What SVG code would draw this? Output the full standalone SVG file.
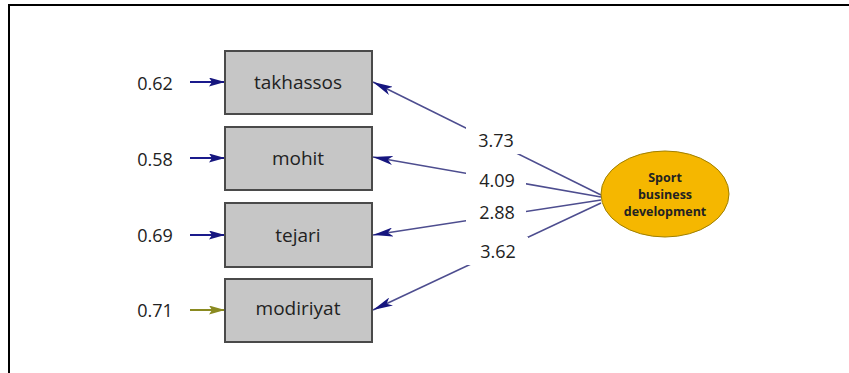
<svg xmlns="http://www.w3.org/2000/svg" width="849" height="373" viewBox="0 0 849 373">
  <style>
    .box { fill: #c6c6c6; stroke: #4a4a4a; stroke-width: 2; }
    .lbl { font-family: "Open Sans", "Noto Sans", sans-serif; font-size: 19px; fill: #222; text-anchor: middle; dominant-baseline: central; }
    .num { font-family: "Open Sans", "Noto Sans", sans-serif; font-size: 18px; fill: #222; text-anchor: middle; dominant-baseline: central; }
    .err { stroke: #1a1a8c; stroke-width: 2; fill: none; }
    .path { stroke: #4d4d8f; stroke-width: 1.6; fill: none; }
    .lat { font-family: "Open Sans", "Noto Sans", sans-serif; font-size: 12.5px; font-weight: bold; fill: #222; text-anchor: middle; }
  </style>
  <defs>
    <marker id="arrowNavy" viewBox="0 0 20 9" refX="20" refY="4.5" markerWidth="20" markerHeight="9" markerUnits="userSpaceOnUse" orient="auto">
      <path d="M0,0 L20,4.5 L0,9 L5,4.5 Z" fill="#16167f"/>
    </marker>
    <marker id="errNavy" viewBox="0 0 16 9" refX="16" refY="4.5" markerWidth="16" markerHeight="9" markerUnits="userSpaceOnUse" orient="auto">
      <path d="M0,0 L16,4.5 L0,9 L3,4.5 Z" fill="#16167f"/>
    </marker>
    <marker id="errOlive" viewBox="0 0 16 9" refX="16" refY="4.5" markerWidth="16" markerHeight="9" markerUnits="userSpaceOnUse" orient="auto">
      <path d="M0,0 L16,4.5 L0,9 L3,4.5 Z" fill="#8a8a20"/>
    </marker>
  </defs>

  <rect width="849" height="373" fill="#ffffff"/>
  <!-- outer frame (top and left edges) -->
  <path d="M9,373 L9,5 L849,5" fill="none" stroke="#000" stroke-width="2"/>

  <!-- connectors -->
  <g id="connectors">
    <line class="err" x1="190" y1="82" x2="225" y2="82" marker-end="url(#errNavy)"/>
    <line class="err" x1="190" y1="158" x2="225" y2="158" marker-end="url(#errNavy)"/>
    <line class="err" x1="190" y1="235" x2="225" y2="235" marker-end="url(#errNavy)"/>
    <line class="err" x1="190" y1="310" x2="225" y2="310" style="stroke:#8a8a20" marker-end="url(#errOlive)"/>

    <line class="path" x1="601" y1="195" x2="373" y2="82" marker-end="url(#arrowNavy)"/>
    <line class="path" x1="601" y1="197" x2="373" y2="157" marker-end="url(#arrowNavy)"/>
    <line class="path" x1="601" y1="200" x2="373" y2="235" marker-end="url(#arrowNavy)"/>
    <line class="path" x1="601" y1="203" x2="373" y2="310" marker-end="url(#arrowNavy)"/>

    <!-- loading labels on white patches -->
    <rect x="466" y="126" width="60" height="28" fill="#fff"/>
    <text class="num" x="496" y="140">3.73</text>
    <rect x="466" y="168" width="60" height="24" fill="#fff"/>
    <text class="num" x="497" y="180">4.09</text>
    <rect x="466" y="200" width="60" height="24" fill="#fff"/>
    <text class="num" x="497" y="212">2.88</text>
    <rect x="466" y="237" width="62" height="28" fill="#fff"/>
    <text class="num" x="498" y="251">3.62</text>
  </g>

  <g id="takhassos">
    <text class="num" x="155" y="83">0.62</text>
    <rect class="box" x="225" y="51" width="147" height="63"/>
    <text class="lbl" x="298" y="82">takhassos</text>
  </g>
  <g id="mohit">
    <text class="num" x="155" y="159">0.58</text>
    <rect class="box" x="225" y="127" width="147" height="63"/>
    <text class="lbl" x="298" y="158">mohit</text>
  </g>
  <g id="tejari">
    <text class="num" x="155" y="235">0.69</text>
    <rect class="box" x="225" y="203" width="147" height="64"/>
    <text class="lbl" x="298" y="235">tejari</text>
  </g>
  <g id="modiriyat">
    <text class="num" x="155" y="310">0.71</text>
    <rect class="box" x="225" y="279" width="147" height="63"/>
    <text class="lbl" x="298" y="308">modiriyat</text>
  </g>

  <g id="sport-business-development">
    <ellipse cx="665" cy="194" rx="64" ry="43" fill="#f5b700" stroke="#a08000" stroke-width="1"/>
    <text class="lat" x="665" y="182">Sport</text>
    <text class="lat" x="665" y="199">business</text>
    <text class="lat" x="665" y="216">development</text>
  </g>
</svg>
